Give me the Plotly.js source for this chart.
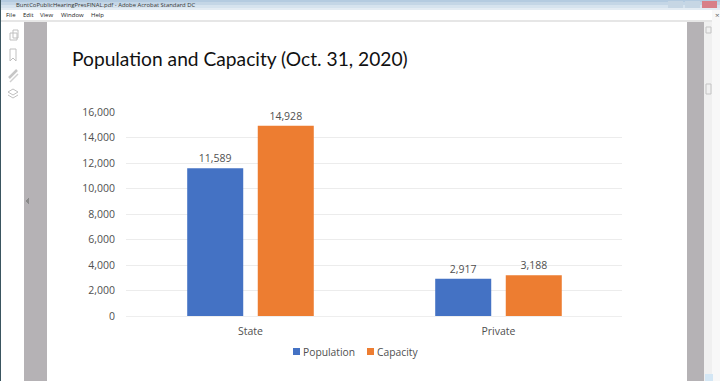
<!DOCTYPE html>
<html><head><meta charset="utf-8">
<script src="https://cdn.plot.ly/plotly-3.0.1.min.js"></script>
<style>html,body{margin:0;padding:0;background:#fff;overflow:hidden}#c{width:720px;height:381px}</style>
</head><body><div id="c"></div>
<script>
const categories = ["State", "Private"];
const seriesNames = ["Population", "Capacity"];
const population = [11589, 2917];
const capacity = [14928, 3188];
const tickValues = [0, 2000, 4000, 6000, 8000, 10000, 12000, 14000, 16000];
const seriesColors = ['#4472c4', '#ed7d31'];
const fontFam = '"Open Sans","Noto Sans",sans-serif';
const titleFam = 'Lato,"Open Sans",sans-serif';

const W = 720, H = 381, L = 126, R = 622, T = 112, B = 316;
const px = x => (x - L) / (R - L), py = y => (B - y) / (B - T);
const rect = (x0, y0, x1, y1, fill) => ({type:'rect', xref:'paper', yref:'paper', layer:'below',
  x0:px(x0), x1:px(x1), y0:py(y0), y1:py(y1), fillcolor:fill, line:{width:0}});
const box = (x0, y0, x1, y1, col) => ({type:'rect', xref:'paper', yref:'paper', layer:'below',
  x0:px(x0), x1:px(x1), y0:py(y0), y1:py(y1), fillcolor:'rgba(0,0,0,0)', line:{width:1, color:col}});
const line = (x0, y0, x1, y1, col, w) => ({type:'line', xref:'paper', yref:'paper', layer:'below',
  x0:px(x0), x1:px(x1), y0:py(y0), y1:py(y1), line:{width:w||1, color:col}});
const label = (x, y, text, size, col, xa, fam) => ({xref:'paper', yref:'paper', x:px(x), y:py(y), text,
  showarrow:false, xanchor:xa||'left', yanchor:'middle', font:{family:fam||fontFam, size, color:col}});
const poly = (pts, col, fill) => ({type:'path', xref:'paper', yref:'paper', layer:'below',
  line:{width:1,color:col}, fillcolor:fill||'rgba(0,0,0,0)',
  path:pts.map((p,i)=>(i?'L ':'M ')+px(p[0])+' '+py(p[1])).join(' ')});

const shapes = [
  rect(0,0,720,2,'#b4cbe0'), rect(0,2,720,5,'#c4d6e6'), rect(0,5,720,8,'#d6e3ee'), rect(0,8,720,10,'#e4ecf3'),
  rect(0,20,720,22,'#e6e6e6'),
  rect(0,0,1,381,'#3a5560'),
  rect(24,22,47,381,'#b5b2b5'),
  rect(687,22,704,381,'#b5b2b5'),
  rect(704,22,712,381,'#f0f0f0'),
  rect(712,10,720,381,'#f8f8f8'),
  poly([[29,198],[26,201],[29,204]],'#8a8a8a','#8a8a8a'),
  box(706,27,711,33,'#c4c4c4'), box(706,84,711,94,'#c4c4c4'),
  rect(705,374,713,381,'#d3e6f4'),
  rect(668,1,683,8,'#c6d6e4'), rect(685,1,700,8,'#c6d6e4'), rect(702,1,717,8,'#d87f88'),
  box(10,33,17,40,'#c0c0c0'), box(13,30,18,38,'#c0c0c0'),
  poly([[10,49],[16,49],[16,61],[13,58],[10,61],[10,49]],'#c0c0c0'),
  line(9,78,17,70,'#c6c6c6',2.5), line(10,82,18,74,'#d0d0d0',1.5),
  poly([[13,89],[18,92],[13,95],[8,92],[13,89]],'#c0c0c0'),
  poly([[8,95],[13,98],[18,95]],'#c0c0c0'),
  rect(293,348,300,355,seriesColors[0]),
  rect(367,348,374,355,seriesColors[1])
];

const annotations = [
  label(14,4.5,'BuntCoPublicHearingPresFINAL.pdf - Adobe Acrobat Standard DC',5.9,'#333333'),
  label(4,15,'File',6,'#222222'), label(21,15,'Edit',6,'#222222'), label(38,15,'View',6,'#222222'),
  label(59,15,'Window',6,'#222222'), label(89,15,'Help',6,'#222222'),
  label(713,15,'×',8,'#666666'),
  label(70,58,'Population and Capacity (Oct. 31, 2020)',19.2,'#111111','left',titleFam),
  label(301,351.5,seriesNames[0],10.3,'#505050'),
  label(375,351.5,seriesNames[1],10.3,'#505050')
];

const common = {type:'bar', x:categories, textposition:'outside', cliponaxis:false,
  texttemplate:'%{y:,}', hoverinfo:'skip', textfont:{family:fontFam, size:10.5, color:'#505050'}};
const data = [
  Object.assign({}, common, {name:seriesNames[0], y:population, marker:{color:seriesColors[0]}}),
  Object.assign({}, common, {name:seriesNames[1], y:capacity, marker:{color:seriesColors[1]}})
];
const layout = {
  width:W, height:H, margin:{l:L, r:W-R, t:T, b:H-B, pad:0},
  paper_bgcolor:'#ffffff', plot_bgcolor:'rgba(0,0,0,0)',
  barmode:'group', bargap:0.431, bargroupgap:0.206,
  showlegend:false,
  xaxis:{type:'category', range:[-0.502,1.498], showgrid:false, zeroline:false, showline:true, linecolor:'#eeeeee', ticks:'',
    ticklabelstandoff:5, tickfont:{family:fontFam, size:10.5, color:'#505050'}},
  yaxis:{range:[0,16000], tickmode:'array', tickvals:tickValues, tickformat:',', ticks:'',
    gridcolor:'#ececec', gridwidth:1, zeroline:false, showline:false, ticklabelstandoff:10,
    tickfont:{family:fontFam, size:10.5, color:'#505050'}},
  shapes, annotations
};
Plotly.newPlot('c', data, layout, {displayModeBar:false, staticPlot:true});
</script></body></html>
